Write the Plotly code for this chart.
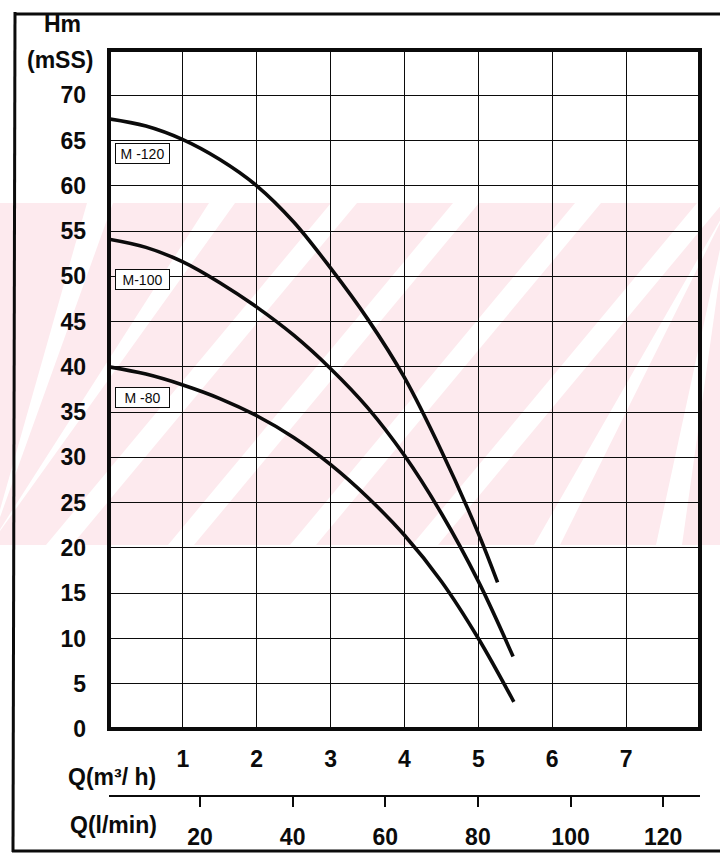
import plotly.graph_objects as go

# Pump performance curves: head Hm (mSS) against flow Q (m3/h)
q_m120 = [0, 0.5, 1, 1.5, 2, 2.5, 3, 3.5, 4, 4.5, 5, 5.26]
h_m120 = [67.4, 66.6, 65.1, 62.9, 60.0, 56.0, 50.9, 45.3, 38.8, 30.7, 21.6, 16.2]

q_m100 = [0, 0.5, 1, 1.5, 2, 2.5, 3, 3.5, 4, 4.5, 5, 5.47]
h_m100 = [54.1, 53.2, 51.6, 49.3, 46.6, 43.5, 39.8, 35.5, 30.2, 23.8, 16.3, 8.0]

q_m80 = [0, 0.5, 1, 1.5, 2, 2.5, 3, 3.5, 4, 4.5, 5, 5.48]
h_m80 = [40.0, 39.2, 38.0, 36.5, 34.6, 32.2, 29.2, 25.6, 21.4, 16.3, 10.0, 3.0]

model_names = ["M -120", "M-100", "M -80"]

q_m3h_ticks = [1, 2, 3, 4, 5, 6, 7]
h_ticks = [0, 5, 10, 15, 20, 25, 30, 35, 40, 45, 50, 55, 60, 65, 70]
q_lmin_ticks = [20, 40, 60, 80, 100, 120]

W, H = 720, 855
ML, MR, MT, MB = 109, 20, 50, 59
PW, PH = W - ML - MR, H - MT - MB
Y_DOMAIN_BOTTOM = (H - MB - 729) / PH  # main grid ends above the l/min scale

SANS = "Liberation Sans, Arial, Helvetica, sans-serif"
INK = "#0b0b0b"


def px(x, y):
    """Pixel position on the page -> paper coordinates."""
    return (x - ML) / PW, (H - MB - y) / PH


fig = go.Figure()

for q, h in [(q_m120, h_m120), (q_m100, h_m100), (q_m80, h_m80)]:
    fig.add_trace(go.Scatter(
        x=q, y=h, mode="lines",
        line=dict(color=INK, width=3.6, shape="spline", smoothing=1.0),
        showlegend=False, hoverinfo="skip",
    ))

# anchor trace for the l/min scale
fig.add_trace(go.Scatter(
    x=[q_lmin_ticks[0]], y=[0], xaxis="x2", yaxis="y", mode="markers",
    marker=dict(opacity=0), showlegend=False, hoverinfo="skip",
))

tick_font = dict(family=SANS, size=23, color=INK, weight="bold")

fig.update_layout(
    width=W, height=H,
    margin=dict(l=ML, r=MR, t=MT, b=MB, pad=0, autoexpand=False),
    paper_bgcolor="white",
    plot_bgcolor="rgba(0,0,0,0)",
    font=dict(family=SANS, color=INK),
    xaxis=dict(
        range=[0, 8], domain=[0, 1], anchor="y", automargin=False,
        tickvals=q_m3h_ticks, ticktext=[str(v) for v in q_m3h_ticks],
        ticks="", showline=False, zeroline=False,
        showgrid=True, gridcolor=INK, gridwidth=1.3,
        tickfont=tick_font, ticklabelstandoff=14,
    ),
    yaxis=dict(
        range=[0, 75], domain=[Y_DOMAIN_BOTTOM, 1], automargin=False,
        tickvals=h_ticks, ticktext=[str(v) for v in h_ticks],
        ticks="", showline=False, zeroline=False,
        showgrid=True, gridcolor=INK, gridwidth=1.3,
        tickfont=tick_font, ticklabelstandoff=22,
    ),
    xaxis2=dict(
        overlaying="x", anchor="free", position=0, side="bottom",
        range=[0.35, 127.95], automargin=False,
        tickvals=q_lmin_ticks, ticktext=[str(v) for v in q_lmin_ticks],
        showline=True, linecolor=INK, linewidth=2,
        ticks="outside", ticklen=10, tickwidth=2, tickcolor=INK,
        showgrid=False, zeroline=False,
        tickfont=tick_font, ticklabelstandoff=10,
    ),
)

shapes = []

# faint pink background band with diagonal light stripes
bx0, by0 = px(-10, 203)
bx1, by1 = px(730, 545)
shapes.append(dict(type="rect", xref="paper", yref="paper",
                   x0=bx0, y0=by1, x1=bx1, y1=by0,
                   fillcolor="#fdeaee", line=dict(width=0), layer="below"))
top_y, bot_y = 203, 545
run = (bot_y - top_y) / 1.2
b = -320
while b < 740:
    pts = [(b, bot_y), (b + 26, bot_y), (b + 26 + run, top_y), (b + run, top_y)]
    pts = [(min(max(x, -10), 730), y) for x, y in pts]
    path = "M " + " L ".join(f"{px(x, y)[0]:.5f},{px(x, y)[1]:.5f}" for x, y in pts) + " Z"
    shapes.append(dict(type="path", xref="paper", yref="paper", path=path,
                       fillcolor="white", line=dict(width=0), layer="below"))
    b += 122

# heavy border round the grid
shapes.append(dict(type="rect", xref="paper", yref="paper",
                   x0=0, x1=1, y0=Y_DOMAIN_BOTTOM, y1=1,
                   line=dict(color=INK, width=4), layer="above"))

# outer frame lines
for (x0, y0), (x1, y1), w in [
    ((15, 12), (13, 852), 3),
    ((15, 14), (722, 14), 3),
    ((12, 851), (722, 851), 3),
]:
    a0, c0 = px(x0, y0)
    a1, c1 = px(x1, y1)
    shapes.append(dict(type="line", xref="paper", yref="paper",
                       x0=a0, y0=c0, x1=a1, y1=c1,
                       line=dict(color=INK, width=w)))

fig.update_layout(shapes=shapes)

annotations = []
bold = dict(family=SANS, size=23, color=INK, weight="bold")
for text, (x, y), anchor in [
    ("Hm", (62, 24), "center"),
    ("(mSS)", (60, 60), "center"),
    ("Q(m³/ h)", (158, 777), "right"),
    ("Q(l/min)", (159, 825), "right"),
]:
    ax, ay = px(x, y)
    annotations.append(dict(text=text, x=ax, y=ay, xref="paper", yref="paper",
                            xanchor=anchor, yanchor="middle", showarrow=False,
                            font=bold))

# model tags beside the curves
for name, h_tag in zip(model_names, [63.6, 49.6, 36.6]):
    annotations.append(dict(
        text=name, x=0.46, y=h_tag, xref="x", yref="y",
        xanchor="center", yanchor="middle", showarrow=False,
        width=51, height=17, borderpad=1,
        bordercolor=INK, borderwidth=1, bgcolor="white",
        font=dict(family=SANS, size=14, color=INK),
    ))

fig.update_layout(annotations=annotations)

fig.write_html("out.html")
